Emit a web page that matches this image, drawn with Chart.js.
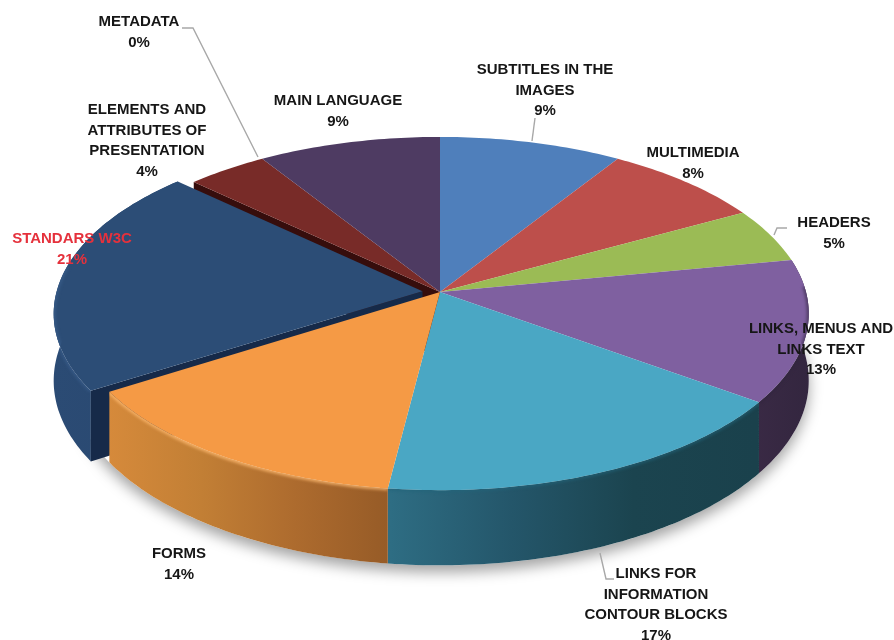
<!DOCTYPE html>
<html>
<head>
<meta charset="utf-8">
<style>
  html, body { margin: 0; padding: 0; background: #ffffff; }
  canvas { display: block; }
</style>
<script src="https://cdn.jsdelivr.net/npm/chart.js@4"></script>
</head>
<body>
<canvas id="pie" width="894" height="640"></canvas>
<script>
// Share of accessibility failures per category, clockwise from twelve o'clock.
const categories = ['SUBTITLES IN THE IMAGES', 'MULTIMEDIA', 'HEADERS', 'LINKS, MENUS AND LINKS TEXT',
  'LINKS FOR INFORMATION CONTOUR BLOCKS', 'FORMS', 'STANDARS W3C',
  'ELEMENTS AND ATTRIBUTES OF PRESENTATION', 'METADATA', 'MAIN LANGUAGE'];
const shares = [9, 8, 5, 13, 17, 14, 21, 4, 0, 9];
const topColors = ['#4f7fbb', '#bd4f4b', '#9bbb55', '#7f60a0', '#4aa7c4', '#f59a45', '#2c4d76', '#782b28', '#8aa0c0', '#4e3b62'];
const sliceOffsets = [0, 0, 0, 0, 0, 0, 13.7, 0, 0, 0];

// Wrapped label text per category, and the anchor of each block (centre x per line, baselines).
const labelLines = [
  ['SUBTITLES IN THE', 'IMAGES', '9%'], ['MULTIMEDIA', '8%'], ['HEADERS', '5%'],
  ['LINKS, MENUS AND', 'LINKS TEXT', '13%'], ['LINKS FOR', 'INFORMATION', 'CONTOUR BLOCKS', '17%'],
  ['FORMS', '14%'], ['STANDARS W3C', '21%'],
  ['ELEMENTS AND', 'ATTRIBUTES OF', 'PRESENTATION', '4%'], ['METADATA', '0%'], ['MAIN LANGUAGE', '9%']
];
const labelAnchors = [[545, 74], [693, 157], [834, 227], [821, 333], [656, 578], [179, 558], [72, 243], [147, 114], [139, 26], [338, 105]];
const labelColors = ['#161616', '#161616', '#161616', '#161616', '#161616', '#161616', '#e5313c', '#161616', '#161616', '#161616'];
const leaderLines = [
  [[535, 118], [532, 141]],
  [[787, 228], [777, 228], [774, 235]],
  [[600, 553], [606, 579], [614, 579]],
  [[182, 28], [193, 28], [258, 157]]
];

// Tilted-disc projection: disc coordinates (u right, v toward the viewer) to page pixels.
const tilt = { rimX: 366, rimY: 174, perspective: 0.122, depth: 66 };

function project(cx, cy, u, v) {
  const w = 1 / (1 - tilt.perspective * v);
  return { x: cx + tilt.rimX * u * w, y: cy + tilt.rimY * v * w, drop: tilt.depth * w };
}

function rimPoints(arc) {
  // Samples the outer edge of an arc element, shifted along its middle angle by its offset.
  const a0 = arc.startAngle + Math.PI / 2, a1 = arc.endAngle + Math.PI / 2;
  const mid = (a0 + a1) / 2, off = (arc.options.offset || 0) / arc.outerRadius;
  const ou = off * Math.sin(mid), ov = -off * Math.cos(mid);
  const n = Math.max(2, Math.ceil((a1 - a0) / (Math.PI / 180)));
  const pts = [];
  for (let i = 0; i <= n; i++) {
    const a = a0 + (a1 - a0) * i / n;
    pts.push(project(arc.x, arc.y, Math.sin(a) + ou, -Math.cos(a) + ov));
  }
  return { pts, tip: project(arc.x, arc.y, ou, ov) };
}

function trace(ctx, pts) {
  ctx.beginPath();
  pts.forEach((p, i) => i ? ctx.lineTo(p.x, p.y) : ctx.moveTo(p.x, p.y));
}

function wallShape(pts) {
  const lower = pts.map(p => ({ x: p.x, y: p.y + p.drop })).reverse();
  return pts.concat(lower);
}

function xGradient(ctx, x0, x1, stops) {
  const g = ctx.createLinearGradient(x0, 0, x1, 0);
  stops.forEach((c, i) => g.addColorStop(i / (stops.length - 1), c));
  return g;
}

const pie3d = {
  id: 'pie3d',
  beforeDatasetDraw(chart, args) {
    const ctx = chart.ctx, arcs = args.meta.data;
    ctx.save();

    // Soft ground shadow under the front of the disc.
    const cx = arcs[0].x, cy = arcs[0].y;
    const ring = [];
    for (let d = 0; d <= 360; d += 2) {
      const t = d * Math.PI / 180;
      ring.push(project(cx, cy, Math.sin(t), -Math.cos(t)));
    }
    ctx.save();
    ctx.shadowColor = 'rgba(0,0,0,0.36)';
    ctx.shadowBlur = 14;
    ctx.shadowOffsetY = 7;
    ctx.fillStyle = '#ffffff';
    trace(ctx, ring.map(p => ({ x: p.x, y: p.y + p.drop })));
    ctx.fill();
    ctx.restore();

    // Radial face of the slice next to the pulled-out one.
    const brown = rimPoints(arcs[7]);
    trace(ctx, wallShape([brown.tip, brown.pts[0]]));
    ctx.fillStyle = '#360d0c';
    ctx.fill();

    // Pulled-out slice: outer wall and its exposed radial face.
    const navy = rimPoints(arcs[6]);
    trace(ctx, wallShape(navy.pts));
    ctx.fillStyle = xGradient(ctx, 50, 180, ['#2b4b74', '#294870']);
    ctx.fill();
    trace(ctx, wallShape([navy.tip, navy.pts[0]]));
    ctx.fillStyle = '#162a49';
    ctx.fill();

    // Outer walls of the front slices, shaded left to right.
    const walls = [
      [3, 750, 810, ['#3a2a45', '#33263f']],
      [4, 390, 755, ['#2e6d83', '#24566a', '#1b444f', '#1a414c']],
      [5, 107, 390, ['#d68a3b', '#c27f35', '#ad6b2e', '#965b27']]
    ];
    walls.forEach(([i, x0, x1, stops]) => {
      trace(ctx, wallShape(rimPoints(arcs[i]).pts));
      ctx.fillStyle = xGradient(ctx, x0, x1, stops);
      ctx.fill();
    });

    // Top faces.
    arcs.forEach((arc) => {
      if (arc.endAngle - arc.startAngle <= 0) return;
      const { pts, tip } = rimPoints(arc);
      trace(ctx, [tip].concat(pts));
      ctx.closePath();
      ctx.fillStyle = arc.options.backgroundColor;
      ctx.fill();
    });

    // Soft bevel along the visible rim, kept inside each slice's own outline.
    const bevels = [[3, 'rgba(48,36,62,0.6)'], [4, 'rgba(34,100,122,0.65)'], [5, 'rgba(255,186,112,0.8)'], [6, 'rgba(66,104,152,0.45)']];
    bevels.forEach(([i, color]) => {
      const { pts, tip } = rimPoints(arcs[i]);
      ctx.save();
      trace(ctx, [tip].concat(wallShape(pts), [pts[0]]));
      ctx.closePath();
      ctx.clip();
      ctx.filter = 'blur(1.5px)';
      let run = pts;
      if (i === 3) run = pts.slice(Math.floor(pts.length * 0.2));
      if (i === 6) run = pts.slice(0, Math.floor(pts.length * 0.55));
      trace(ctx, run);
      ctx.strokeStyle = color;
      ctx.lineWidth = 4;
      ctx.stroke();
      ctx.restore();
    });

    ctx.restore();
    return false;
  },
  afterDatasetsDraw(chart) {
    const ctx = chart.ctx;
    ctx.save();
    ctx.strokeStyle = '#a8a8a8';
    ctx.lineWidth = 1.4;
    leaderLines.forEach(line => {
      trace(ctx, line.map(([x, y]) => ({ x, y })));
      ctx.stroke();
    });
    ctx.font = 'bold 15px "Liberation Sans", Arial, sans-serif';
    ctx.textAlign = 'center';
    ctx.textBaseline = 'alphabetic';
    labelLines.forEach((lines, i) => {
      ctx.fillStyle = labelColors[i];
      lines.forEach((text, j) => {
        ctx.fillText(text, labelAnchors[i][0], labelAnchors[i][1] + j * 20.5);
      });
    });
    ctx.restore();
  }
};

new Chart(document.getElementById('pie'), {
  type: 'pie',
  data: {
    labels: categories,
    datasets: [{ data: shares, backgroundColor: topColors, offset: sliceOffsets, borderWidth: 0 }]
  },
  options: {
    responsive: false,
    animation: false,
    layout: { padding: { left: 0, right: 14, top: 0, bottom: 56 } },
    plugins: { legend: { display: false }, tooltip: { enabled: false } }
  },
  plugins: [pie3d]
});
</script>
</body>
</html>
